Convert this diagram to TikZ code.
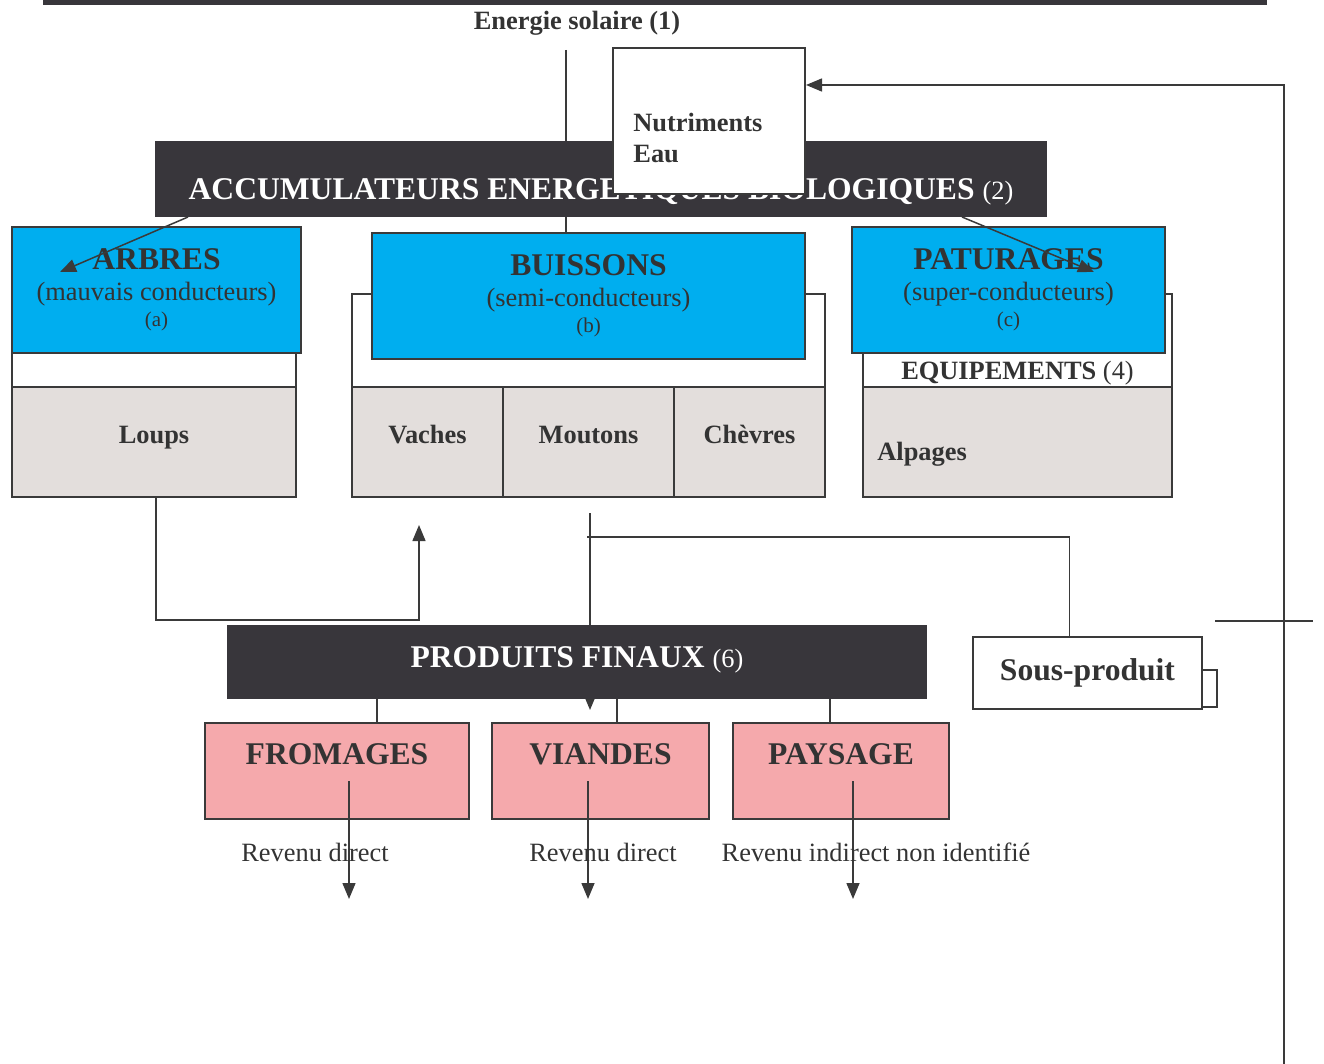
\documentclass[tikz,border=0pt]{standalone}
\usepackage{fontspec}
\setmainfont{Liberation Serif}
\usetikzlibrary{arrows.meta}

\definecolor{boxdark}{HTML}{38363B}
\definecolor{boxblue}{HTML}{00AEEF}
\definecolor{boxgray}{HTML}{E3DEDC}
\definecolor{boxpink}{HTML}{F5A9AC}
\definecolor{textgray}{HTML}{333333}
\definecolor{linegray}{HTML}{3A3A3A}

\newcommand{\grandtexte}{\fontsize{15.8}{18}\selectfont}
\newcommand{\moyentexte}{\fontsize{13.2}{15.5}\selectfont}
\newcommand{\petittexte}{\fontsize{10.5}{12}\selectfont}

\tikzset{
  boite/.style = {draw=linegray, line width=1pt, inner sep=0pt,
    anchor=north west, align=center, text=textgray},
  cadre/.style = {boite, fill=white, minimum height=46.5pt},% cadre des equipements
  animal/.style = {boite, fill=boxgray, minimum height=55pt},
  animaltxt/.style = {text=textgray, font=\moyentexte\bfseries, inner sep=0pt,
    yshift=3.5pt, text height=9pt, text depth=0pt},
  bleu/.style = {boite, fill=boxblue, minimum height=63pt, font=\moyentexte},
  sombre/.style = {boite, fill=boxdark, draw=boxdark, text=white, font=\grandtexte},
  sombretxt/.style = {text=white, font=\grandtexte, inner sep=0pt},
  blanc/.style = {boite, fill=white},
  rose/.style = {boite, fill=boxpink, minimum height=48pt},% produits finaux
  rosetxt/.style = {text=textgray, font=\grandtexte\bfseries, inner sep=0pt, yshift=8.5pt},
  texte/.style = {text=textgray, inner sep=0pt, font=\moyentexte},
  lien/.style = {draw=linegray, line width=0.75pt},
  fleche/.style = {lien, -{Triangle[length=8pt, width=6.5pt]}}
}

\begin{document}
\begin{tikzpicture}[x=0.5pt, y=-0.5pt]
  \useasboundingbox (0,0) rectangle (1324,1064);
  \fill[boxdark] (43,0) rectangle (1267,5);
  \node[texte, font=\moyentexte\bfseries] (soleil) at (577,23) {Energie solaire (1)};

  % cadres des equipements (4)
  \node[cadre, minimum width=142pt] (cadrea) at (11,293) {};
  \node[cadre, minimum width=236.5pt] (cadreb) at (351,293) {};
  \node[cadre, minimum width=154.5pt] (cadrec) at (862,293) {};
  \node[texte] (equip) at ([yshift=7.5pt]cadrec.south) {\textbf{EQUIPEMENTS} (4)};

  % animaux
  \node[animal, minimum width=142pt, label={[animaltxt]center:Loups}] (loups) at (11,386) {};
  \node[animal, minimum width=75.5pt, label={[animaltxt]center:Vaches}] (vaches) at (351,386) {};
  \node[animal, minimum width=85.5pt, label={[animaltxt]center:Moutons}] (moutons) at (502,386) {};
  \node[animal, minimum width=75.5pt, label={[animaltxt]center:Chèvres}] (chevres) at (673,386) {};
  \node[animal, minimum width=154.5pt] (alpages) at (862,386) {};
  \node[texte, font=\moyentexte\bfseries, anchor=west] (alpagestxt)
    at ([xshift=7.5pt, yshift=-6pt]alpages.west) {Alpages};

  % accumulateurs (a), (b), (c)
  \node[bleu, minimum width=144.5pt] (arbres) at (11,226)
    {{\grandtexte\bfseries ARBRES}\\(mauvais conducteurs)\\[-2.5pt]{\petittexte (a)}};
  \node[bleu, minimum width=216.5pt] (buissons) at (371,232)
    {{\grandtexte\bfseries BUISSONS}\\(semi-conducteurs)\\[-2.5pt]{\petittexte (b)}};
  \node[bleu, minimum width=156.5pt] (paturages) at (851,226)
    {{\grandtexte\bfseries PATURAGES}\\(super-conducteurs)\\[-2.5pt]{\petittexte (c)}};

  % energie solaire
  \coordinate (rayon) at (566,50);
  \draw[lien] (rayon) -- (rayon |- buissons.north);

  \node[sombre, minimum width=445pt, minimum height=37pt,
    label={[sombretxt, yshift=-6.5pt]center:\textbf{ACCUMULATEURS ENERGETIQUES BIOLOGIQUES} {\moyentexte (2)}}]
    (accu) at (155,141) {};
  \node[blanc, minimum width=96pt, minimum height=73pt] (nutri) at (612,47) {};
  \node[texte, font=\moyentexte\bfseries, align=left, anchor=west] (nutritxt)
    at ([xshift=10.5pt, yshift=-8.75pt]nutri.west) {Nutriments\\Eau};

  \draw[fleche] ([xshift=16.5pt]accu.south west) -- ([xshift=24.5pt, yshift=-23pt]arbres.north west);
  \draw[fleche] ([xshift=-42.5pt]accu.south east) -- ([xshift=-36pt, yshift=-23pt]paturages.north east);

  % retour vers les nutriments
  \coordinate (retour) at (1284,1064);
  \draw[fleche] (retour) |- ([yshift=18pt]nutri.east);
  \coordinate (croixg) at (1215,621);
  \coordinate (croixd) at (1313,621);
  \draw[lien] (croixg) -- (croixd);

  % loups vers vaches
  \draw[fleche] ([xshift=1pt]loups.south) -- ++(0,122) -| ([xshift=34pt, yshift=-13.5pt]vaches.south west);

  % vers les produits finaux (6)
  \coordinate (descente) at (590,513);
  \coordinate (arrivee) at (590,710);
  \draw[fleche] (descente) -- (arrivee);
  \coordinate (embranch) at (587,537);

  \node[sombre, minimum width=349pt, minimum height=36pt,
    label={[sombretxt, yshift=1pt]center:\textbf{PRODUITS FINAUX} {\moyentexte (6)}}]
    (produits) at (227,625) {};
  \node[blanc, minimum width=114.5pt, minimum height=36pt, font=\grandtexte\bfseries] (sous)
    at (972,636) {Sous-produit};
  \node[blanc, minimum width=7.5pt, minimum height=18.5pt] (onglet) at (1201,669) {};
  \draw[lien] (embranch) -| ([xshift=-9pt]sous.north);

  \node[rose, minimum width=132pt, label={[rosetxt]center:FROMAGES}] (fromages) at (204,722) {};
  \node[rose, minimum width=108.5pt, label={[rosetxt]center:VIANDES}] (viandes) at (491,722) {};
  \node[rose, minimum width=108pt, label={[rosetxt]center:PAYSAGE}] (paysage) at (732,722) {};

  \coordinate (pf) at ([xshift=20pt]fromages.north);
  \coordinate (pv) at ([xshift=8.25pt]viandes.north);
  \coordinate (pp) at ([xshift=-5.5pt]paysage.north);
  \foreach \p in {pf,pv,pp}
    \draw[lien] (\p) -- (\p |- produits.south);

  % revenus
  \foreach \b/\dx in {fromages/6pt, viandes/-6.25pt, paysage/6pt}
    \draw[fleche] ([xshift=\dx, yshift=-5pt]\b.center) -- ++(0,118);
  \node[texte] (rev1) at (315,852) {Revenu direct};
  \node[texte] (rev2) at (603,852) {Revenu direct};
  \node[texte] (rev3) at (876,852) {Revenu indirect non identifié};
\end{tikzpicture}
\end{document}
